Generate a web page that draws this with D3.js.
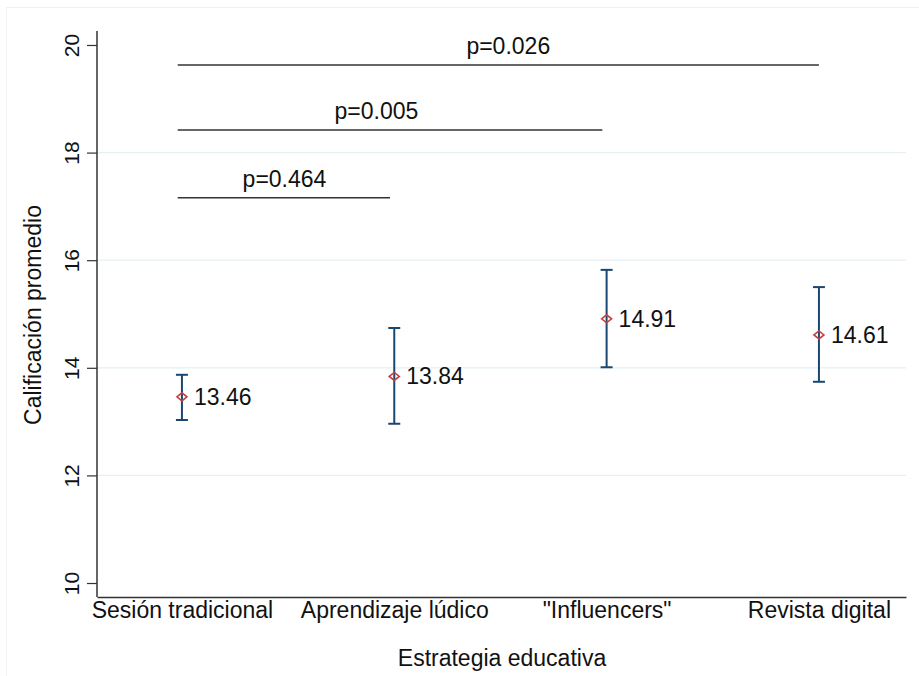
<!DOCTYPE html>
<html><head><meta charset="utf-8">
<script src="https://cdn.jsdelivr.net/npm/d3@7"></script>
<style>body{margin:0;background:#fff}svg{display:block}text{font-family:"Liberation Sans",Arial,sans-serif;fill:#111}</style>
</head><body>
<script>
const categories = ["Sesión tradicional","Aprendizaje lúdico","\"Influencers\"","Revista digital"];
const means = [13.46, 13.84, 14.91, 14.61];
const ciLow = [13.03, 12.96, 14.01, 13.74];
const ciHigh = [13.87, 14.74, 15.82, 15.50];
const yTicks = [10, 12, 14, 16, 18, 20];
const gridTicks = [12, 14, 16, 18];
const pLabels = ["p=0.464", "p=0.005", "p=0.026"];
const pFrom = [-0.02, -0.02, -0.02];
const pTo = [0.98, 1.98, 3.0];
const pY = [17.16, 18.42, 19.63];
const pTextX = [0.483, 0.916, 1.537];

const W = 919, H = 676;
const svg = d3.select("body").append("svg").attr("width", W).attr("height", H);
svg.append("rect").attr("x",6.5).attr("y",7.5).attr("width",W).attr("height",H).attr("fill","#fff").attr("stroke","#eef2f2");

const x = d3.scaleLinear().domain([-0.4, 3.41]).range([97, 906]);
const y = d3.scaleLinear().domain([9.74, 20.26]).range([597, 31]);

// gridlines
svg.append("g").selectAll("line").data(gridTicks).join("line")
  .attr("x1", 97).attr("x2", 906).attr("y1", d=>y(d)).attr("y2", d=>y(d))
  .attr("stroke", "#e6eff1").attr("stroke-width", 1.2);

// y axis
const yAxis = svg.append("g").attr("transform","translate(97,0)")
  .call(d3.axisLeft(y).tickValues(yTicks).tickSize(10).tickFormat(d3.format("d")));
yAxis.select(".domain").attr("stroke","#333").attr("stroke-width",1.5).attr("d","M0,"+y(20.26)+"V"+y(9.74));
yAxis.selectAll(".tick line").attr("stroke","#333").attr("stroke-width",1.2);
yAxis.selectAll(".tick text").attr("font-size",21).attr("fill","#111")
  .attr("transform","translate(-25,0) rotate(-90)").attr("x",0).attr("y",0).attr("dy","0.35em").attr("text-anchor","middle");

// x axis
const xAxis = svg.append("g").attr("transform","translate(0,597)")
  .call(d3.axisBottom(x).tickValues(d3.range(categories.length)).tickSize(0).tickFormat(i=>categories[i]));
xAxis.select(".domain").attr("stroke","#333").attr("stroke-width",1.5);
xAxis.selectAll(".tick text").attr("font-size",23).attr("y",5).attr("dy","0.71em").attr("fill","#111");

// axis titles
svg.append("text").attr("x",502).attr("y",666).attr("text-anchor","middle").attr("font-size",23).text("Estrategia educativa");
svg.append("text").attr("transform","translate(41,315) rotate(-90)").attr("text-anchor","middle").attr("font-size",23).text("Calificación promedio");

// p-value brackets
const pg = svg.append("g");
pg.selectAll("line").data(pLabels).join("line")
  .attr("x1",(d,i)=>x(pFrom[i])).attr("x2",(d,i)=>x(pTo[i]))
  .attr("y1",(d,i)=>y(pY[i])).attr("y2",(d,i)=>y(pY[i]))
  .attr("stroke","#333").attr("stroke-width",1.5);
pg.selectAll("text").data(pLabels).join("text")
  .attr("x",(d,i)=>x(pTextX[i])).attr("y",(d,i)=>y(pY[i])-11)
  .attr("text-anchor","middle").attr("font-size",23).text(d=>d);

// error bars
const eg = svg.append("g");
const idx = d3.range(categories.length);
eg.selectAll("line.v").data(idx).join("line").attr("class","v")
  .attr("x1",i=>x(i)).attr("x2",i=>x(i)).attr("y1",i=>y(ciLow[i])).attr("y2",i=>y(ciHigh[i]))
  .attr("stroke","#1a476f").attr("stroke-width",2);
eg.selectAll("line.t").data(idx).join("line").attr("class","t")
  .attr("x1",i=>x(i)-6).attr("x2",i=>x(i)+6).attr("y1",i=>y(ciHigh[i])).attr("y2",i=>y(ciHigh[i]))
  .attr("stroke","#1a476f").attr("stroke-width",2);
eg.selectAll("line.b").data(idx).join("line").attr("class","b")
  .attr("x1",i=>x(i)-6).attr("x2",i=>x(i)+6).attr("y1",i=>y(ciLow[i])).attr("y2",i=>y(ciLow[i]))
  .attr("stroke","#1a476f").attr("stroke-width",2);
eg.selectAll("path.m").data(idx).join("path").attr("class","m")
  .attr("d",i=>{const cx=x(i), cy=y(means[i]); return `M${cx-5},${cy}L${cx},${cy-4}L${cx+5},${cy}L${cx},${cy+4}Z`;})
  .attr("fill","none").attr("stroke","#c3403f").attr("stroke-width",1.6);
eg.selectAll("text").data(idx).join("text")
  .attr("x",i=>x(i)+12).attr("y",i=>y(means[i])).attr("dy","0.35em")
  .attr("font-size",23).text(i=>means[i].toFixed(2));
</script>
</body></html>
